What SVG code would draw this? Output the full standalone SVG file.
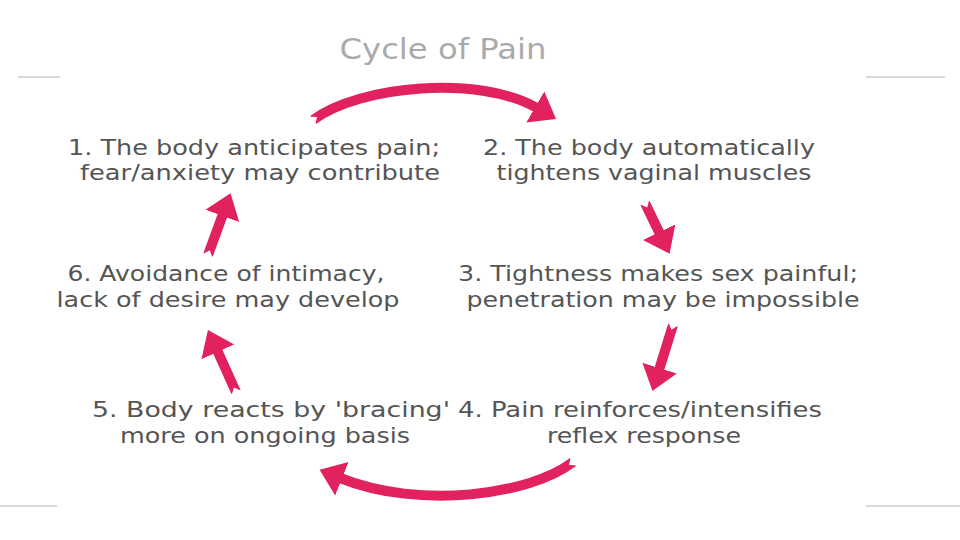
<svg xmlns="http://www.w3.org/2000/svg" width="960" height="540" viewBox="0 0 960 540">
<style>
.t{font-family:"DejaVu Sans","Verdana",sans-serif;font-size:21px;fill:#555;text-anchor:middle}
.title{font-family:"DejaVu Sans","Verdana",sans-serif;font-size:28px;fill:#aaa;text-anchor:middle}
.arr{fill:none;stroke:#e2215f;stroke-width:10;marker-end:url(#head);marker-start:url(#notch)}
.rule{stroke:#ccc;stroke-width:1.5}
</style>
<defs>
<marker id="head" viewBox="-2 -19 26 38" markerWidth="26" markerHeight="38" refX="0" refY="0" markerUnits="userSpaceOnUse" orient="auto">
<path d="M-2,-18 L22,0 L-2,18 Z" fill="#e2215f"/>
</marker>
<marker id="notch" viewBox="-2 -8 10 16" markerWidth="10" markerHeight="16" refX="0" refY="0" markerUnits="userSpaceOnUse" orient="auto">
<path d="M-2,-6 L5,0 L-2,6 Z" fill="#fff"/>
</marker>
</defs>
<rect width="960" height="540" fill="#fff"/>
<g id="rules">
<line class="rule" x1="18" y1="77" x2="60" y2="77"/>
<line class="rule" x1="866" y1="77" x2="945" y2="77"/>
<line class="rule" x1="0" y1="506" x2="57" y2="506"/>
<line class="rule" x1="866" y1="506" x2="960" y2="506"/>
</g>
<text class="title" x="443" y="59" textLength="207" lengthAdjust="spacingAndGlyphs">Cycle of Pain</text>
<g id="connectors">
<path class="arr" d="M313,120 C360,85 480,75 537,108"/>
<path class="arr" d="M645,203 L660,234"/>
<path class="arr" d="M673,325 L659,370"/>
<path class="arr" d="M573,462 C530,495 420,510 340,478"/>
<path class="arr" d="M236,392 L217,350"/>
<path class="arr" d="M208,255 L223,214"/>
</g>
<g id="n1"><text class="t" x="254" y="155" textLength="372" lengthAdjust="spacingAndGlyphs">1. The body anticipates pain;</text><text class="t" x="260" y="180" textLength="360" lengthAdjust="spacingAndGlyphs">fear/anxiety may contribute</text></g>
<g id="n2"><text class="t" x="649" y="155" textLength="332" lengthAdjust="spacingAndGlyphs">2. The body automatically</text><text class="t" x="654" y="180" textLength="315" lengthAdjust="spacingAndGlyphs">tightens vaginal muscles</text></g>
<g id="n3"><text class="t" x="658" y="281" textLength="400" lengthAdjust="spacingAndGlyphs">3. Tightness makes sex painful;</text><text class="t" x="663" y="307" textLength="393" lengthAdjust="spacingAndGlyphs">penetration may be impossible</text></g>
<g id="n4"><text class="t" x="640" y="417" textLength="364" lengthAdjust="spacingAndGlyphs">4. Pain reinforces/intensifies</text><text class="t" x="644" y="443" textLength="194" lengthAdjust="spacingAndGlyphs">reflex response</text></g>
<g id="n5"><text class="t" x="271" y="417" textLength="358" lengthAdjust="spacingAndGlyphs">5. Body reacts by 'bracing'</text><text class="t" x="265" y="443" textLength="290" lengthAdjust="spacingAndGlyphs">more on ongoing basis</text></g>
<g id="n6"><text class="t" x="226" y="281" textLength="317" lengthAdjust="spacingAndGlyphs">6. Avoidance of intimacy,</text><text class="t" x="228" y="307" textLength="343" lengthAdjust="spacingAndGlyphs">lack of desire may develop</text></g>
</svg>
